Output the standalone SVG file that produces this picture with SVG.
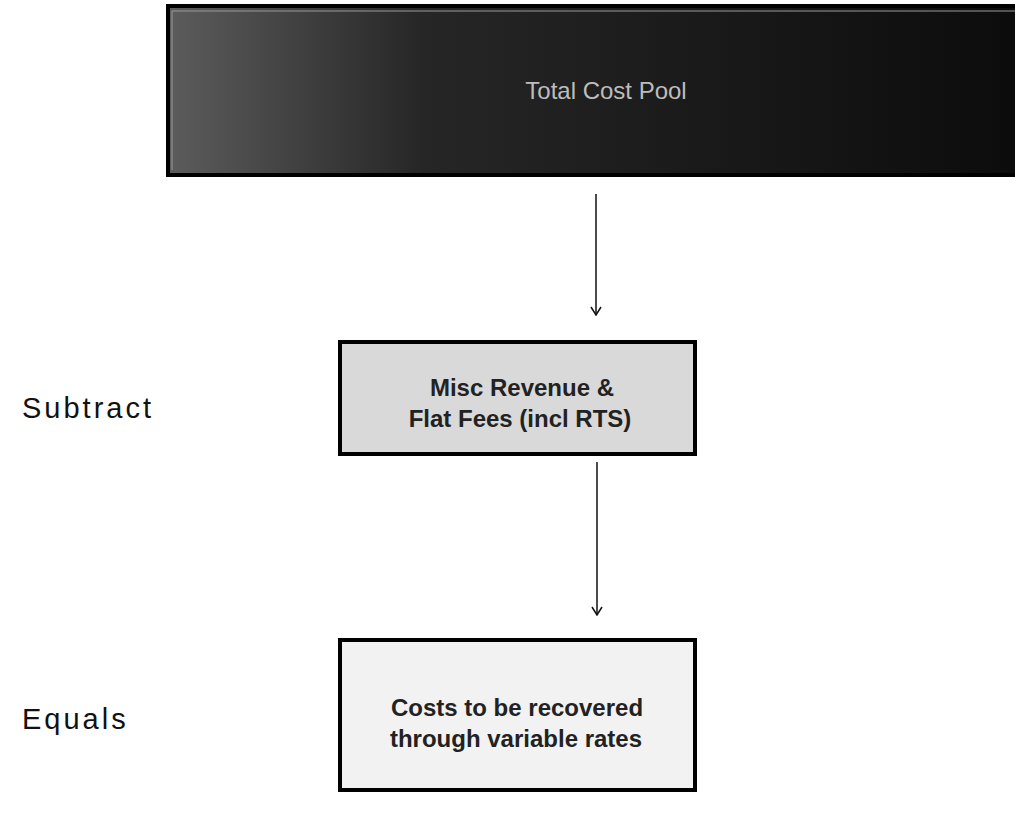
<svg xmlns="http://www.w3.org/2000/svg" width="1015" height="815" viewBox="0 0 1015 815">
<style>
.lbl{font-family:"Liberation Sans",Arial,sans-serif;font-size:29px;fill:#111;letter-spacing:3px}
.nt{font-family:"Liberation Sans",Arial,sans-serif;font-size:24px;font-weight:bold;fill:#222;text-anchor:middle}
.conn{stroke:#111;stroke-width:1.5;fill:none}
</style>
<defs>
<marker id="ah" viewBox="0 0 12 12" refX="11" refY="6" markerWidth="12" markerHeight="12" markerUnits="userSpaceOnUse" orient="auto">
<path d="M3,1 L11,6 L3,11" fill="none" stroke="#111" stroke-width="1.5"/>
</marker>
<linearGradient id="topg" x1="0" y1="0" x2="1" y2="0">
<stop offset="0" stop-color="#5c5c5c"/>
<stop offset="0.3" stop-color="#262626"/>
<stop offset="1" stop-color="#0c0c0c"/>
</linearGradient>
</defs>
<rect width="1015" height="815" fill="#fff"/>
<g id="node-total">
<rect x="168" y="6" width="850" height="169" fill="url(#topg)" stroke="#000" stroke-width="4"/>
<path d="M172,170 V11 H1015" fill="none" stroke="#9a9a9a" stroke-width="1"/>
<text x="606" y="99" font-family="Liberation Sans,Arial,sans-serif" font-size="24" fill="#bdbdbd" text-anchor="middle">Total Cost Pool</text>
</g>
<g id="node-misc">
<rect x="340" y="342" width="355" height="112" fill="#d9d9d9" stroke="#000" stroke-width="4"/>
<text class="nt" x="522" y="396">Misc Revenue &amp;</text>
<text class="nt" x="520" y="427">Flat Fees (incl RTS)</text>
</g>
<g id="node-costs">
<rect x="340" y="640" width="355" height="150" fill="#f2f2f2" stroke="#000" stroke-width="4"/>
<text class="nt" x="517" y="716">Costs to be recovered</text>
<text class="nt" x="516" y="747">through variable rates</text>
</g>
<g id="label-subtract"><text class="lbl" x="22" y="418">Subtract</text></g>
<g id="label-equals"><text class="lbl" x="22" y="729">Equals</text></g>
<g id="connectors">
<line class="conn" x1="596" y1="194" x2="596" y2="315" marker-end="url(#ah)"/>
<line class="conn" x1="597" y1="462" x2="597" y2="615" marker-end="url(#ah)"/>
</g>
</svg>
